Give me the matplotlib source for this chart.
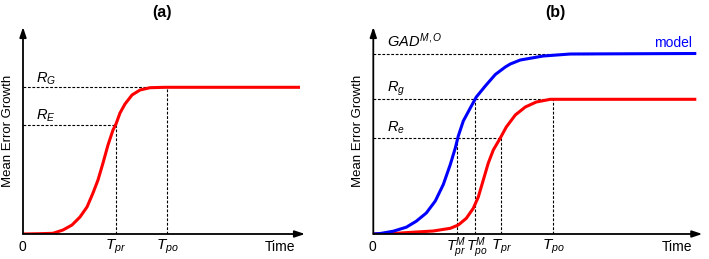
import matplotlib
matplotlib.use("Agg")
from matplotlib import pyplot as plt

plt.rcParams['font.family'] = ['Liberation Sans', 'DejaVu Sans']
plt.rcParams['mathtext.fontset'] = 'custom'
plt.rcParams['mathtext.rm'] = 'Liberation Sans'
plt.rcParams['mathtext.it'] = 'Liberation Sans:italic'
plt.rcParams['mathtext.bf'] = 'Liberation Sans:bold'

# ---- data (arbitrary units) ----
# panel (a)
a_time = [0, 17, 30, 40, 49, 57, 64, 70, 75, 80, 85, 90, 93, 97, 102, 109,
          117, 127, 142, 277]
a_err = [0, 0.3, 0.7, 4, 9, 17, 27, 41, 54, 71, 89, 104, 110, 121, 130, 139,
         144, 146.3, 146.7, 146.7]
a_RG = 146.7
a_RE = 109
a_Tpr = 93
a_Tpo = 144

# panel (b)
b_time_model = [0, 7, 20, 33, 43, 53, 62, 70, 77, 82, 85, 90, 97, 103, 112,
                122, 132, 137, 147, 170, 197, 323]
b_err_model = [0, 0.5, 2.8, 6.8, 12.8, 21, 33, 49.5, 69.5, 86, 98, 113, 126,
               137, 148, 159.5, 167, 170, 174, 178, 180, 180.5]
b_time_obs = [0, 20, 40, 60, 77, 85, 93, 100, 105, 110, 115, 120, 127, 133,
              142, 152, 163, 177, 323]
b_err_obs = [0, 0.5, 1.8, 3, 5.7, 9, 15.7, 25.7, 37, 54, 71, 84, 96, 107, 119,
             127, 132, 134.7, 134.7]
b_GAD = 180.5
b_Rg = 135
b_Re = 96
b_TprM = 84
b_TpoM = 102
b_Tpr = 128
b_Tpo = 180
b_GAD_end = 220

fig = plt.figure(figsize=(7.09, 2.59), dpi=100)
axA = fig.add_axes([23/709, 25/259, 282/709, 207/259])
axB = fig.add_axes([373.3/709, 25/259, 329/709, 207/259])


def setup(ax, xmax, ymax):
    ax.set_xlim(0, xmax)
    ax.set_ylim(0, ymax)
    ax.axis('off')
    arr = dict(arrowstyle='-|>,head_length=0.6,head_width=0.2', color='black',
               lw=1.3, shrinkA=0, shrinkB=0)
    ax.annotate('', xy=(xmax, 0), xytext=(0, 0), arrowprops=arr, annotation_clip=False)
    ax.annotate('', xy=(0, ymax), xytext=(0, 0), arrowprops=arr, annotation_clip=False)
    ax.text(-0.5, -13, '0', ha='center', va='center', fontsize=10)
    ax.text(xmax - 25, -13, 'Time', ha='center', va='center', fontsize=10)
    ax.text(-15, 103, 'Mean Error Growth', rotation=90, ha='center', va='center',
            fontsize=9.5)


dash = dict(color='black', lw=0.8, ls=(0, (2.5, 1.5)))

# ---- panel (a) ----
setup(axA, 282, 207)
axA.plot([0, a_Tpo], [a_RG, a_RG], **dash)
axA.plot([0, a_Tpr], [a_RE, a_RE], **dash)
axA.plot([a_Tpr, a_Tpr], [0, a_RE], **dash)
axA.plot([a_Tpo, a_Tpo], [0, a_RG], **dash)
axA.plot(a_time, a_err, color='#ff0000', lw=2.2, solid_capstyle='butt',
         solid_joinstyle='round')
axA.text(13, a_RG + 9, r'$R_G$', fontsize=10.5, va='center')
axA.text(13, a_RE + 9, r'$R_E$', fontsize=10.5, va='center')
axA.text(a_Tpr, -13, r'$T_{pr}$', fontsize=11, ha='center', va='center')
axA.text(a_Tpo, -13, r'$T_{po}$', fontsize=11, ha='center', va='center')
fig.text(162/709, 1 - 12/259, '(a)', fontsize=11.5, fontweight='bold',
         ha='center', va='center')

# ---- panel (b) ----
setup(axB, 329, 207)
axB.plot([0, b_GAD_end], [b_GAD, b_GAD], **dash)
axB.plot([0, b_Tpo], [b_Rg, b_Rg], **dash)
axB.plot([0, b_Tpr], [b_Re, b_Re], **dash)
axB.plot([b_TprM, b_TprM], [0, b_Re], **dash)
axB.plot([b_TpoM, b_TpoM], [0, b_Rg], **dash)
axB.plot([b_Tpr, b_Tpr], [0, b_Re], **dash)
axB.plot([b_Tpo, b_Tpo], [0, b_Rg], **dash)
axB.plot(b_time_obs, b_err_obs, color='#ff0000', lw=2.2, solid_capstyle='butt',
         solid_joinstyle='round')
axB.plot(b_time_model, b_err_model, color='#0000ff', lw=2.2, solid_capstyle='butt',
         solid_joinstyle='round')
axB.text(14, b_GAD + 13, r'$GAD^{M,O}$', fontsize=10.5, va='center')
axB.text(14, b_Rg + 10, r'$R_g$', fontsize=10.5, va='center')
axB.text(14, b_Re + 10, r'$R_e$', fontsize=10.5, va='center')
axB.text(319, b_GAD + 10.5, 'model', color='#0000ff', fontsize=10, ha='right',
         va='center')
axB.text(b_TprM - 1.5, -14, r'$T_{pr}^{M}$', fontsize=10.5, ha='center', va='center')
axB.text(b_TpoM + 1.5, -14, r'$T_{po}^{M}$', fontsize=10.5, ha='center', va='center')
axB.text(b_Tpr, -13, r'$T_{pr}$', fontsize=11, ha='center', va='center')
axB.text(b_Tpo, -13, r'$T_{po}$', fontsize=11, ha='center', va='center')
fig.text(555/709, 1 - 12/259, '(b)', fontsize=11.5, fontweight='bold',
         ha='center', va='center')

fig.savefig('out.png', dpi=100)
